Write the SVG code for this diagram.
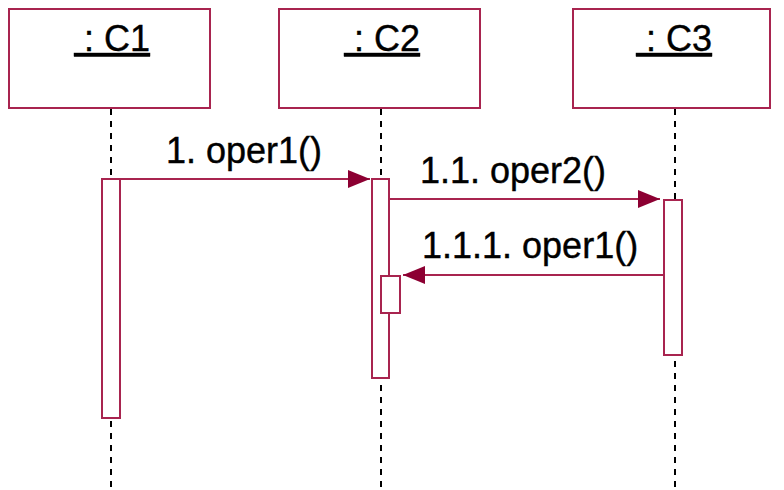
<svg xmlns="http://www.w3.org/2000/svg" width="784" height="490" viewBox="0 0 784 490">
<style>
.box{fill:#fff;stroke:#A8244F;stroke-width:2}
.act{fill:#fff;stroke:#A8244F;stroke-width:2}
.life{stroke:#000;stroke-width:2;stroke-dasharray:6 6;fill:none}
.msg{stroke:#A8244F;stroke-width:2;fill:none}
.lbl{font-family:"Liberation Sans",Arial,sans-serif;font-size:36px;fill:#000;stroke:#000;stroke-width:0.4}
.name{font-family:"Liberation Sans",Arial,sans-serif;font-size:36px;fill:#000;stroke:#000;stroke-width:0.4;text-decoration:underline}
</style>
<defs>
<marker id="ah" markerWidth="24" markerHeight="20" refX="22" refY="9" orient="auto" markerUnits="userSpaceOnUse">
<path d="M0,0 L22,9 L0,18 Z" fill="#8C0032"/>
</marker>
</defs>
<g id="lifelines">
<line class="life" x1="111" y1="109" x2="111" y2="490"/>
<line class="life" x1="381" y1="109" x2="381" y2="490"/>
<line class="life" x1="675" y1="109" x2="675" y2="490"/>
</g>
<g id="C1">
<rect class="box" x="9" y="9" width="201" height="99"/>
<text class="name" x="112" y="51" text-anchor="middle" xml:space="preserve"> : C1</text>
<rect class="act" x="102" y="179" width="18" height="239"/>
</g>
<g id="C2">
<rect class="box" x="279" y="9" width="201" height="99"/>
<text class="name" x="382" y="51" text-anchor="middle" xml:space="preserve"> : C2</text>
<rect class="act" x="372" y="179" width="17" height="199"/>
<rect class="act" x="381" y="276" width="19" height="37"/>
</g>
<g id="C3">
<rect class="box" x="573" y="9" width="197" height="99"/>
<text class="name" x="674" y="51" text-anchor="middle" xml:space="preserve"> : C3</text>
<rect class="act" x="664" y="200" width="18" height="155"/>
</g>
<g id="connectors">
<line class="msg" x1="120" y1="179" x2="370" y2="179" marker-end="url(#ah)"/>
<line class="msg" x1="389" y1="199" x2="660" y2="199" marker-end="url(#ah)"/>
<line class="msg" x1="664" y1="275" x2="403" y2="275" marker-end="url(#ah)"/>
<text class="lbl" x="166" y="163">1. oper1()</text>
<text class="lbl" x="420" y="183">1.1. oper2()</text>
<text class="lbl" x="422" y="258">1.1.1. oper1()</text>
</g>
</svg>
